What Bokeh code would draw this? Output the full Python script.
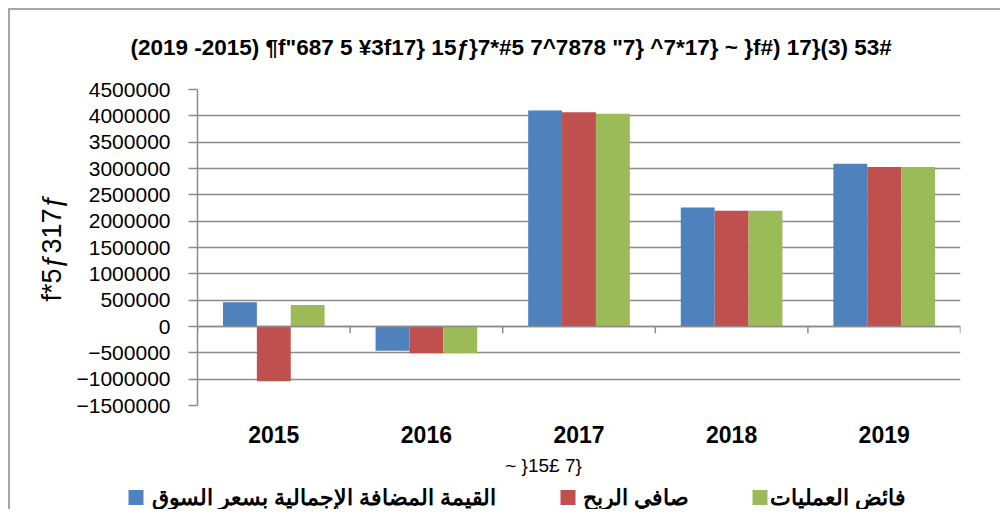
from bokeh.plotting import figure
from bokeh.layouts import column
from bokeh.models import ColumnDataSource, FixedTicker, Span, BasicTickFormatter, Range1d
from bokeh.core.properties import value
from bokeh.embed import file_html
from bokeh.resources import INLINE

# ---- data ----
years = ["2015", "2016", "2017", "2018", "2019"]
series_names = ["القيمة المضافة الإجمالية بسعر السوق", "صافي الربح", "فائض العمليات"]
gross_value_added = [460000, -460000, 4100000, 2260000, 3090000]
net_profit = [-1040000, -510000, 4070000, 2200000, 3030000]
operating_surplus = [410000, -510000, 4040000, 2200000, 3030000]
y_ticks = list(range(-1500000, 4500001, 500000))
title_text = '(2019 -2015) ¶f"687 5 ¥3f17} 15ƒ}7*#5 7^7878 "7} ^7*17} ~ }f#) 17}(3) 53#'
y_label_text = "f*5ƒ317ƒ"
x_label_text = "~ }15£ 7}"
colors = ["#4F81BD", "#C0504D", "#9BBB59"]

grid_color = "#8c8c8c"


def strip(height, y_top, y_bottom):
    f = figure(width=990, height=height, x_range=Range1d(10, 1000), y_range=Range1d(y_bottom, y_top),
               output_backend="svg", toolbar_location=None,
               x_axis_type=None, y_axis_type=None, min_border=0)
    f.frame_align = False
    f.outline_line_color = None
    f.xgrid.grid_line_color = None
    f.ygrid.grid_line_color = None
    f.background_fill_color = "white"
    f.border_fill_color = "white"
    return f


# top strip: title
pt = strip(67, 10, 77)
pt.text(x=[130], y=[47], text=[title_text], text_align="left", text_baseline="middle",
        text_font=value("Liberation Sans"), text_font_size="22.5px", text_font_style="bold",
        text_color="black")

# main chart
p = figure(width=990, height=375, x_range=(0.5, 5.5), y_range=(-1500000, 4500000),
           output_backend="svg", toolbar_location=None,
           min_border_left=187, min_border_right=40, min_border_top=12, min_border_bottom=47)
p.frame_align = False
p.outline_line_color = None
p.background_fill_color = "white"
p.border_fill_color = "white"

series = [gross_value_added, net_profit, operating_surplus]
offsets = [-0.222, 0.0, 0.222]
bar_w = 0.222
for vals, off, col in zip(series, offsets, colors):
    src = ColumnDataSource(dict(x=[i + 1 + off for i in range(len(years))], top=vals))
    p.vbar(x="x", top="top", bottom=0, width=bar_w, source=src,
           fill_color=col, line_color=None)

# zero axis line + category boundary ticks
p.add_layout(Span(location=0, dimension="width", line_color=grid_color, line_width=1.5))
bx = [i + 0.5 for i in range(len(years) + 1)]
p.segment(x0=bx, x1=bx, y0=[0] * len(bx), y1=[-130000] * len(bx),
          line_color=grid_color, line_width=1.5)

# y axis
p.yaxis.ticker = FixedTicker(ticks=y_ticks)
p.yaxis.formatter = BasicTickFormatter(use_scientific=False)
p.yaxis.axis_line_color = grid_color
p.yaxis.axis_line_width = 1.5
p.yaxis.major_tick_line_color = grid_color
p.yaxis.major_tick_line_width = 1.5
p.yaxis.major_tick_out = 9
p.yaxis.major_tick_in = 0
p.yaxis.minor_tick_line_color = None
p.yaxis.major_label_text_font = "Liberation Sans"
p.yaxis.major_label_text_font_size = "21px"
p.yaxis.major_label_text_color = "black"
p.yaxis.major_label_standoff = 18
p.yaxis.axis_label = y_label_text
p.yaxis.axis_label_text_font = "Liberation Sans"
p.yaxis.axis_label_text_font_size = "27px"
p.yaxis.axis_label_text_font_style = "normal"
p.yaxis.axis_label_text_color = "black"
p.yaxis.axis_label_standoff = 6

# x axis
p.xaxis.ticker = FixedTicker(ticks=list(range(1, len(years) + 1)))
p.xaxis.major_label_overrides = {i + 1: y for i, y in enumerate(years)}
p.xaxis.axis_line_color = None
p.xaxis.major_tick_line_color = None
p.xaxis.minor_tick_line_color = None
p.xaxis.major_label_text_font = "Liberation Sans"
p.xaxis.major_label_text_font_size = "23px"
p.xaxis.major_label_text_font_style = "bold"
p.xaxis.major_label_text_color = "black"
p.xaxis.major_label_standoff = 14

# grid
p.xgrid.grid_line_color = None
p.ygrid.ticker = FixedTicker(ticks=y_ticks)
p.ygrid.grid_line_color = grid_color
p.ygrid.grid_line_width = 1.5

# bottom strip: x-axis title and legend
pl = strip(57, 452, 509)
pl.text(x=[543], y=[465], text=[x_label_text], text_align="center", text_baseline="middle",
        text_font=value("Liberation Sans"), text_font_size="19px", text_color="black")

swatch_x = [135.5, 567.5, 759.5]
label_right = [495, 688, 905]
pl.rect(x=swatch_x, y=[497] * 3, width=15, height=15, fill_color=colors, line_color=None)
pl.text(x=label_right, y=[497] * 3, text=series_names, text_align="right", text_baseline="middle",
        text_font=value("Liberation Sans"), text_font_size="21.5px", text_font_style="bold",
        text_color="black")

layout = column(pt, p, pl, spacing=0)
layout.styles = {"margin-left": "8px", "margin-top": "8px",
                 "border-left": "2px solid #a6a6a6", "border-top": "2px solid #a6a6a6"}

open("out.html", "w").write(file_html(layout, INLINE))
